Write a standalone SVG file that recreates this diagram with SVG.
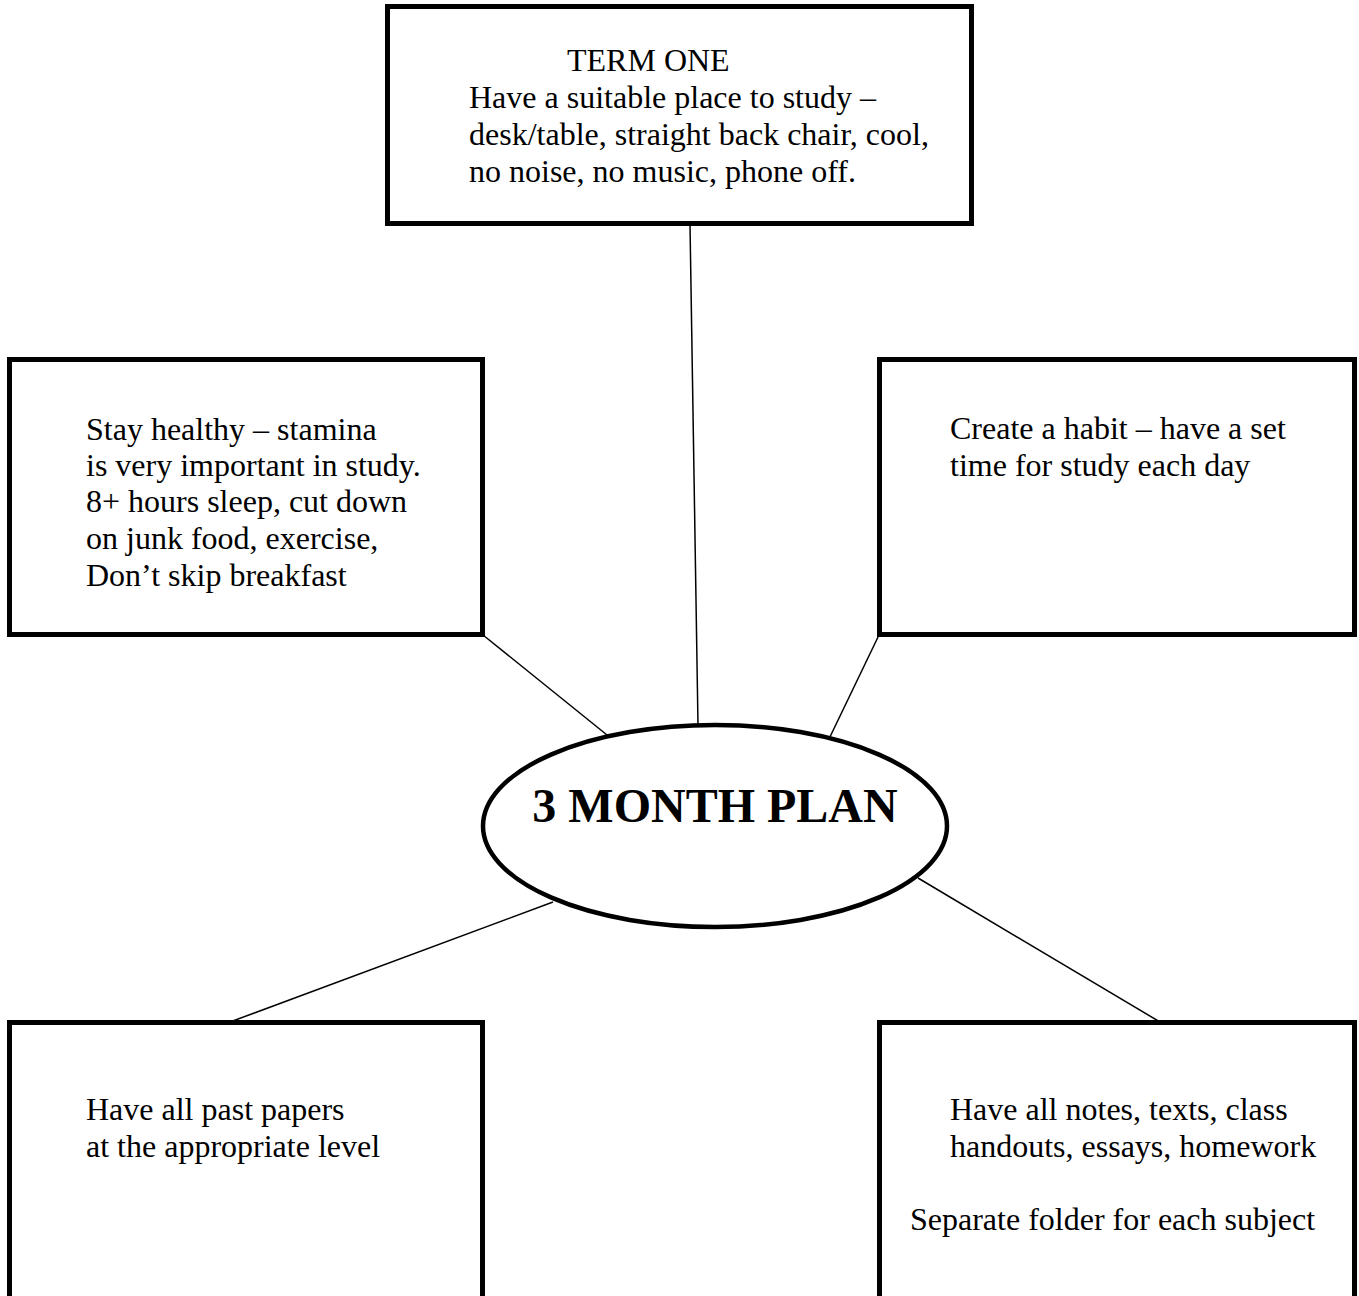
<svg xmlns="http://www.w3.org/2000/svg" width="1359" height="1296" viewBox="0 0 1359 1296">
<style>
.box{fill:#fff;stroke:#000;stroke-width:5}
.t{font-family:"Liberation Serif","Times New Roman",serif;font-size:32px;fill:#000}
.title{font-family:"Liberation Serif","Times New Roman",serif;font-size:48px;font-weight:bold;fill:#000}
.c{stroke:#000;stroke-width:1.5;fill:none}
</style>
<rect width="1359" height="1296" fill="#fff"/>
<g id="connectors">
<line class="c" x1="690" y1="224" x2="698" y2="725"/>
<line class="c" x1="483" y1="635" x2="612" y2="739"/>
<line class="c" x1="879" y1="635" x2="828" y2="741"/>
<line class="c" x1="553" y1="902" x2="230" y2="1022"/>
<line class="c" x1="918" y1="878" x2="1160" y2="1022"/>
</g>
<g id="node-term-one">
<rect class="box" x="387.5" y="6.5" width="584" height="217"/>
<text class="t"><tspan x="567" y="71">TERM ONE</tspan><tspan x="469" y="108">Have a suitable place to study –</tspan><tspan x="469" y="145">desk/table, straight back chair, cool,</tspan><tspan x="469" y="182">no noise, no music, phone off.</tspan></text>
</g>
<g id="node-healthy">
<rect class="box" x="9.5" y="359.5" width="473" height="275"/>
<text class="t"><tspan x="86" y="440">Stay healthy – stamina</tspan><tspan x="86" y="476">is very important in study.</tspan><tspan x="86" y="512">8+ hours sleep, cut down</tspan><tspan x="86" y="549">on junk food, exercise,</tspan><tspan x="86" y="586">Don’t skip breakfast</tspan></text>
</g>
<g id="node-habit">
<rect class="box" x="879.5" y="359.5" width="475" height="275"/>
<text class="t"><tspan x="950" y="439">Create a habit – have a set</tspan><tspan x="950" y="476">time for study each day</tspan></text>
</g>
<g id="node-plan">
<ellipse cx="715" cy="826" rx="232" ry="101" fill="#fff" stroke="#000" stroke-width="4.5"/>
<text class="title" x="715" y="822" text-anchor="middle">3 MONTH PLAN</text>
</g>
<g id="node-papers">
<rect class="box" x="9.5" y="1022.5" width="473" height="290"/>
<text class="t"><tspan x="86" y="1120">Have all past papers</tspan><tspan x="86" y="1157">at the appropriate level</tspan></text>
</g>
<g id="node-notes">
<rect class="box" x="879.5" y="1022.5" width="475" height="290"/>
<text class="t"><tspan x="950" y="1120">Have all notes, texts, class</tspan><tspan x="950" y="1157">handouts, essays, homework</tspan><tspan x="910" y="1230">Separate folder for each subject</tspan></text>
</g>
</svg>
